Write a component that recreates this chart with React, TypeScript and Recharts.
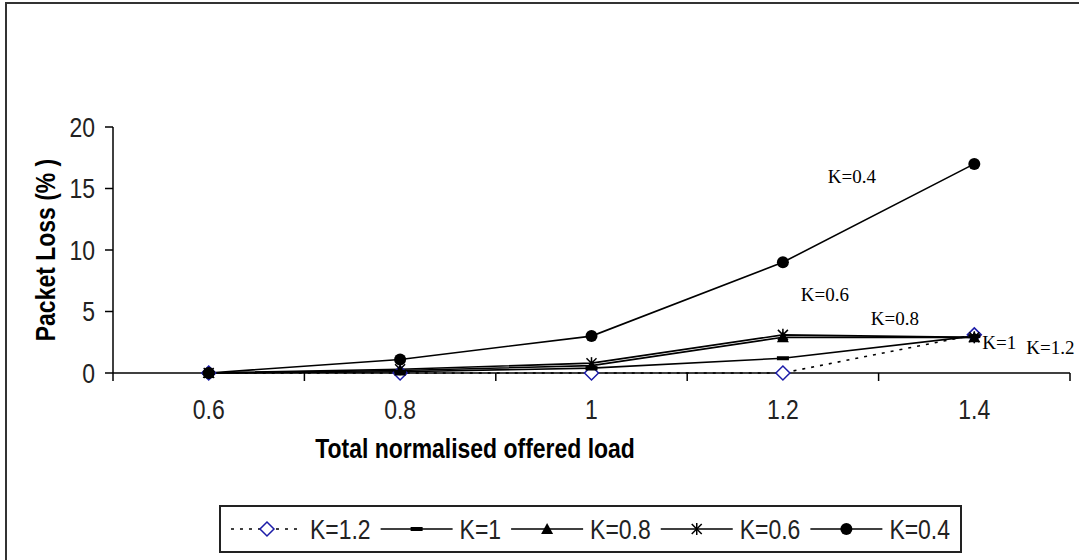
import React from 'react';
import { LineChart, Line, XAxis, YAxis, Legend, LabelList, Label } from 'recharts';

// offered load categories (x) and packet loss (%) per K value
const loads = [0.6, 0.8, 1, 1.2, 1.4];
const boundaryTicks = [0.5, 0.7, 0.9, 1.1, 1.3, 1.5];
const yTicks = [0, 5, 10, 15, 20];

const lossK12 = [0, 0, 0, 0, 3.1];
const lossK1 = [0, 0.1, 0.4, 1.2, 3];
const lossK08 = [0, 0.2, 0.6, 2.9, 2.9];
const lossK06 = [0, 0.3, 0.8, 3.1, 2.9];
const lossK04 = [0, 1.1, 3, 9, 17];

type Shape = 'diamond' | 'dash' | 'triangle' | 'star' | 'circle';

const series = [
    { key: 'k12', name: 'K=1.2', values: lossK12, shape: 'diamond' as Shape, dotted: true, label: { index: 4, dx: 76, dy: 13 } },
    { key: 'k1', name: 'K=1', values: lossK1, shape: 'dash' as Shape, dotted: false, label: { index: 4, dx: 25, dy: 6 } },
    { key: 'k08', name: 'K=0.8', values: lossK08, shape: 'triangle' as Shape, dotted: false, label: { index: 3, dx: 112, dy: -19 } },
    { key: 'k06', name: 'K=0.6', values: lossK06, shape: 'star' as Shape, dotted: false, label: { index: 3, dx: 42, dy: -40 } },
    { key: 'k04', name: 'K=0.4', values: lossK04, shape: 'circle' as Shape, dotted: false, label: { index: 3, dx: 69, dy: -86 } },
];

const chartData = loads.map((load, i) => {
    const row: Record<string, number> = { load };
    series.forEach((s) => {
        row[s.key] = s.values[i];
    });
    return row;
});

const FONT = "'Liberation Sans', Arial, sans-serif";
const SERIF = "'Liberation Serif', 'Times New Roman', serif";
const NARROW = 0.82;

// rough Arial advance widths, used to lay out the legend
const charW: Record<string, number> = { K: 0.667, '=': 0.584, '.': 0.278 };
const textWidth = (s: string, size: number) =>
    s.split('').reduce((w, c) => w + (charW[c] ?? 0.556), 0) * size * NARROW;

function NarrowText({ x, y, children, anchor = 'middle', size = 28, bold = false, rotate = 0 }: any) {
    return (
        <text
            transform={`translate(${x},${y}) rotate(${rotate}) scale(${NARROW},1)`}
            textAnchor={anchor}
            dominantBaseline="central"
            fontFamily={FONT}
            fontSize={size}
            fontWeight={bold ? 'bold' : 'normal'}
            fill={bold ? '#000' : '#222'}
        >
            {children}
        </text>
    );
}

function Marker({ cx, cy, shape }: { cx: number; cy: number; shape: Shape }) {
    switch (shape) {
        case 'diamond':
            return (
                <polygon
                    points={`${cx},${cy - 7} ${cx + 7},${cy} ${cx},${cy + 7} ${cx - 7},${cy}`}
                    fill="#fff"
                    stroke="#1c1ca8"
                    strokeWidth={1.5}
                />
            );
        case 'dash':
            return <rect x={cx - 6} y={cy - 2} width={12} height={4} fill="#000" />;
        case 'triangle':
            return <polygon points={`${cx},${cy - 6} ${cx + 6},${cy + 5} ${cx - 6},${cy + 5}`} fill="#000" />;
        case 'star':
            return (
                <g stroke="#000" strokeWidth={1.5}>
                    <line x1={cx} y1={cy - 6} x2={cx} y2={cy + 6} />
                    <line x1={cx - 5} y1={cy - 5} x2={cx + 5} y2={cy + 5} />
                    <line x1={cx + 5} y1={cy - 5} x2={cx - 5} y2={cy + 5} />
                </g>
            );
        default:
            return <circle cx={cx} cy={cy} r={6} fill="#000" />;
    }
}

const XTick = ({ x, y, payload }: any) => {
    const v = payload.value;
    if (loads.includes(v)) {
        return (
            <NarrowText x={x} y={y + 36}>
                {v}
            </NarrowText>
        );
    }
    return <line x1={x} x2={x} y1={y} y2={y + 8} stroke="#000" strokeWidth={1.5} />;
};

const YTick = ({ x, y, payload }: any) => (
    <NarrowText x={x} y={y} anchor="end">
        {payload.value}
    </NarrowText>
);

const LEGEND_W = 743;
const LEGEND_H = 48;
const SAMPLE = 72;

const LegendBox = () => {
    const widths = series.map((s) => textWidth(s.name, 28));
    const total = widths.reduce((a, w) => a + SAMPLE + 7 + w + 10, 0) - 10;
    let cursor = (LEGEND_W - total) / 2;
    return (
        <svg width={LEGEND_W} height={LEGEND_H} style={{ display: 'block' }}>
            <rect x={1} y={1} width={LEGEND_W - 2} height={LEGEND_H - 2} fill="#fff" stroke="#222" strokeWidth={2} />
            {series.map((s, i) => {
                const x0 = cursor;
                cursor += SAMPLE + 7 + widths[i] + 10;
                return (
                    <g key={s.key}>
                        <line
                            x1={x0}
                            x2={x0 + SAMPLE}
                            y1={LEGEND_H / 2}
                            y2={LEGEND_H / 2}
                            stroke="#000"
                            strokeWidth={1.6}
                            strokeDasharray={s.dotted ? '3 6' : undefined}
                        />
                        <Marker cx={x0 + SAMPLE / 2} cy={LEGEND_H / 2} shape={s.shape} />
                        <NarrowText x={x0 + SAMPLE + 7} y={LEGEND_H / 2} anchor="start">
                            {s.name}
                        </NarrowText>
                    </g>
                );
            })}
        </svg>
    );
};

export default function App() {
    return (
        <div style={{ position: 'absolute', left: 0, top: 0, width: 1079, height: 560, background: '#fff', overflow: 'hidden' }}>
            {/* chart frame, cut at right and bottom */}
            <div
                style={{
                    position: 'absolute',
                    left: 5,
                    top: 2,
                    width: 1120,
                    height: 620,
                    border: '2px solid #333',
                }}
            />
            <div style={{ position: 'absolute', left: 0, top: 0 }}>
                <LineChart width={1079} height={560} data={chartData} margin={{ top: 127, right: 9, bottom: 117, left: 53 }}>
                    <XAxis
                        dataKey="load"
                        type="number"
                        domain={[0.5, 1.5]}
                        ticks={[...boundaryTicks, ...loads].sort((a, b) => a - b)}
                        tick={<XTick />}
                        tickLine={false}
                        tickSize={0}
                        tickMargin={0}
                        height={70}
                        interval={0}
                        stroke="#000"
                        strokeWidth={1.5}
                    >
                        <Label
                            content={({ viewBox }: any) => (
                                <NarrowText x={viewBox.x + 362} y={viewBox.y + 75} bold>
                                    Total normalised offered load
                                </NarrowText>
                            )}
                        />
                    </XAxis>
                    <YAxis
                        domain={[0, 20]}
                        ticks={yTicks}
                        width={60}
                        tickSize={8}
                        tickMargin={10}
                        stroke="#000"
                        strokeWidth={1.5}
                        tick={<YTick />}
                    >
                        <Label
                            content={({ viewBox }: any) => (
                                <NarrowText x={viewBox.x - 8} y={viewBox.y + viewBox.height / 2} rotate={-90} bold>
                                    Packet Loss (% )
                                </NarrowText>
                            )}
                        />
                    </YAxis>
                    <Legend
                        layout="horizontal"
                        verticalAlign="middle"
                        align="center"
                        wrapperStyle={{ left: 219, top: 505, width: LEGEND_W, height: LEGEND_H }}
                        content={() => <LegendBox />}
                    />
                    {series.map((s) => (
                        <Line
                            key={s.key}
                            dataKey={s.key}
                            name={s.name}
                            type="linear"
                            stroke="#000"
                            strokeWidth={1.6}
                            strokeDasharray={s.dotted ? '3 6' : undefined}
                            isAnimationActive={false}
                            activeDot={false}
                            dot={(p: any) => <Marker key={`${s.key}-${p.index}`} cx={p.cx} cy={p.cy} shape={s.shape} />}
                        >
                            <LabelList
                                dataKey={s.key}
                                content={(p: any) =>
                                    p.index === s.label.index ? (
                                        <text
                                            x={p.x + s.label.dx}
                                            y={p.y + s.label.dy}
                                            textAnchor="middle"
                                            dominantBaseline="central"
                                            fontFamily={SERIF}
                                            fontSize={19}
                                            fill="#000"
                                        >
                                            {s.name}
                                        </text>
                                    ) : null
                                }
                            />
                        </Line>
                    ))}
                </LineChart>
            </div>
        </div>
    );
}
